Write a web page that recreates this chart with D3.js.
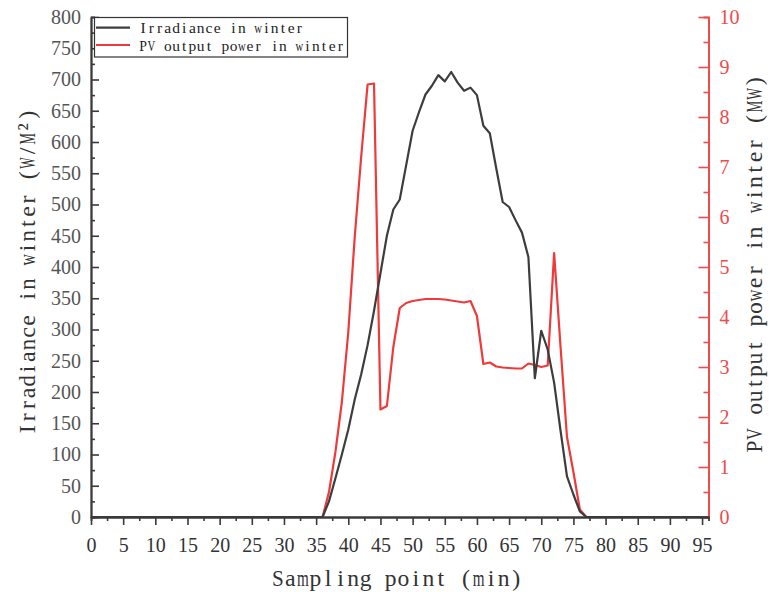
<!DOCTYPE html>
<html>
<head>
<meta charset="utf-8">
<script src="https://cdn.jsdelivr.net/npm/d3@7"></script>
<style>
  body { margin: 0; background: #fff; }
  svg { display: block; }
</style>
</head>
<body>
<svg id="chart" width="770" height="592"></svg>
<script>
// Winter irradiance (W/M2) per sampling point, index = sampling point 0..96
const irradiance = [
  0, 0, 0, 0, 0, 0, 0, 0, 0, 0,
  0, 0, 0, 0, 0, 0, 0, 0, 0, 0,
  0, 0, 0, 0, 0, 0, 0, 0, 0, 0,
  0, 0, 0, 0, 0, 0, 0, 25, 62, 100,
  140, 188, 228, 275, 330, 390, 450, 492, 508, 563,
  618, 648, 676, 690, 707, 697, 712, 695, 682, 687,
  675, 626, 614, 558, 504, 496, 475, 455, 416, 222,
  298, 268, 215, 138, 65, 36, 9, 0, 0, 0,
  0, 0, 0, 0, 0, 0, 0, 0, 0, 0,
  0, 0, 0, 0, 0, 0, 0
];

// Winter PV output power (MW) per sampling point
const pvPower = [
  0, 0, 0, 0, 0, 0, 0, 0, 0, 0,
  0, 0, 0, 0, 0, 0, 0, 0, 0, 0,
  0, 0, 0, 0, 0, 0, 0, 0, 0, 0,
  0, 0, 0, 0, 0, 0, 0, 0.5, 1.3, 2.3,
  3.7, 5.6, 7.2, 8.65, 8.67, 2.15, 2.22, 3.4, 4.18, 4.28,
  4.32, 4.34, 4.36, 4.36, 4.36, 4.35, 4.33, 4.31, 4.29, 4.32,
  4.02, 3.06, 3.09, 3.01, 2.99, 2.98, 2.97, 2.97, 3.07, 3.04,
  3.0, 3.03, 5.28, 3.4, 1.6, 0.9, 0.15, 0, 0, 0,
  0, 0, 0, 0, 0, 0, 0, 0, 0, 0,
  0, 0, 0, 0, 0, 0, 0
];

const xTicks = [0, 5, 10, 15, 20, 25, 30, 35, 40, 45, 50, 55, 60, 65, 70, 75, 80, 85, 90, 95];
const leftTicks = [0, 50, 100, 150, 200, 250, 300, 350, 400, 450, 500, 550, 600, 650, 700, 750, 800];
const rightTicks = [0, 1, 2, 3, 4, 5, 6, 7, 8, 9, 10];
const seriesNames = ["Irradiance in winter", "PV output power in winter"];
const xTitle = "Sampling point (min)";
const leftTitle = "Irradiance in winter (W/M²)";
const rightTitle = "PV output power in winter (MW)";

const svg = d3.select("#chart");

const x = d3.scaleLinear().domain([0, 96]).range([91, 708.5]);
const yL = d3.scaleLinear().domain([0, 800]).range([517, 17]);
const yR = d3.scaleLinear().domain([0, 10]).range([517, 17]);

const darkLine = "#3d3d3d";
const redLine = "#ee3a3a";
const axisGray = "#3a3a3a";
const redAxis = "#f04a4a";
const serifFont = "'Liberation Serif', 'Times New Roman', serif";

// series lines: power first, irradiance on top
const lineL = d3.line().x((d, i) => x(i)).y(d => yL(d));
const lineR = d3.line().x((d, i) => x(i)).y(d => yR(d));

svg.append("path").datum(pvPower)
  .attr("d", lineR).attr("fill", "none")
  .attr("stroke", redLine).attr("stroke-width", 2.2)
  .attr("stroke-linejoin", "round");

svg.append("path").datum(irradiance)
  .attr("d", lineL).attr("fill", "none")
  .attr("stroke", darkLine).attr("stroke-width", 2.2)
  .attr("stroke-linejoin", "round");

// helpers for minor tick positions
const midpoints = arr => arr.slice(0, -1).map((v, i) => (v + arr[i + 1]) / 2);

function styleAxis(g, color, labelColor) {
  g.select(".domain").attr("stroke", color).attr("stroke-width", 1.8);
  g.selectAll(".tick line").attr("stroke", color).attr("stroke-width", 1.6);
  g.selectAll(".tick text").attr("fill", labelColor)
    .style("font-family", serifFont).style("font-size", "20px");
}

// left axis (irradiance)
const gLminor = svg.append("g").attr("transform", "translate(91,0)")
  .call(d3.axisLeft(yL).tickValues(midpoints(leftTicks)).tickSize(-4).tickFormat(""));
styleAxis(gLminor, axisGray, axisGray);
const gL = svg.append("g").attr("transform", "translate(91,0)")
  .call(d3.axisLeft(yL).tickValues(leftTicks).tickSizeInner(-8).tickSizeOuter(0).tickPadding(10));
styleAxis(gL, axisGray, "#555");

// right axis (PV power)
const gRminor = svg.append("g").attr("transform", "translate(708.5,0)")
  .call(d3.axisRight(yR).tickValues(midpoints(rightTicks)).tickSize(-5).tickFormat(""));
styleAxis(gRminor, redAxis, redAxis);
const gR = svg.append("g").attr("transform", "translate(708.5,0)")
  .call(d3.axisRight(yR).tickValues(rightTicks).tickSizeInner(-10).tickSizeOuter(0).tickPadding(11));
styleAxis(gR, redAxis, redAxis);

// bottom axis (sampling point)
const gBminor = svg.append("g").attr("transform", "translate(0,517)")
  .call(d3.axisBottom(x).tickValues(midpoints(xTicks)).tickSize(4).tickFormat(""));
styleAxis(gBminor, axisGray, axisGray);
const gB = svg.append("g").attr("transform", "translate(0,517)")
  .call(d3.axisBottom(x).tickValues(xTicks).tickSizeInner(8).tickSizeOuter(0).tickPadding(13));
styleAxis(gB, axisGray, "#333");

// Fixed-pitch serif label: every character sits in an equal cell,
// squeezed horizontally when the glyph is wider than its cell.
function pitchLabel(parent, str, opts) {
  const { x0, y0, rotate = 0, advance, size, fill, anchor = "middle" } = opts;
  const chars = Array.from(str);
  const total = chars.length * advance;
  const start = anchor === "middle" ? -total / 2 : 0;
  const g = parent.append("g")
    .attr("transform", `translate(${x0},${y0}) rotate(${rotate})`)
    .style("font-family", serifFont).style("font-size", size + "px")
    .attr("fill", fill);
  chars.forEach((c, i) => {
    if (c === " ") return;
    const cx = start + (i + 0.5) * advance;
    const t = g.append("text").attr("text-anchor", "middle")
      .attr("transform", `translate(${cx},0)`).text(c);
    const w = t.node().getComputedTextLength();
    const maxW = advance * 0.94;
    if (w > maxW) t.attr("transform", `translate(${cx},0) scale(${maxW / w},1)`);
  });
  return g;
}

// axis titles
pitchLabel(svg, xTitle, { x0: 397, y0: 586, advance: 12.55, size: 24, fill: "#333" });
pitchLabel(svg, leftTitle, { x0: 35, y0: 272, rotate: -90, advance: 12.1, size: 24, fill: "#333" });
pitchLabel(svg, rightTitle, { x0: 762, y0: 264, rotate: -90, advance: 12.6, size: 24, fill: "#333" });

// legend
const legend = svg.append("g");
legend.append("rect")
  .attr("x", 94.5).attr("y", 17.5).attr("width", 253).attr("height", 39.5)
  .attr("fill", "#fff").attr("stroke", "#333").attr("stroke-width", 1.2);
const legendRows = [
  { name: seriesNames[0], color: darkLine, y: 27.7 },
  { name: seriesNames[1], color: redLine, y: 45 }
];
legendRows.forEach(r => {
  legend.append("line")
    .attr("x1", 96).attr("x2", 130).attr("y1", r.y).attr("y2", r.y)
    .attr("stroke", r.color).attr("stroke-width", 2.2);
  pitchLabel(legend, r.name, { x0: 139, y0: r.y + 5.5, advance: 8.22, size: 15.5, fill: "#222", anchor: "start" });
});
</script>
</body>
</html>
